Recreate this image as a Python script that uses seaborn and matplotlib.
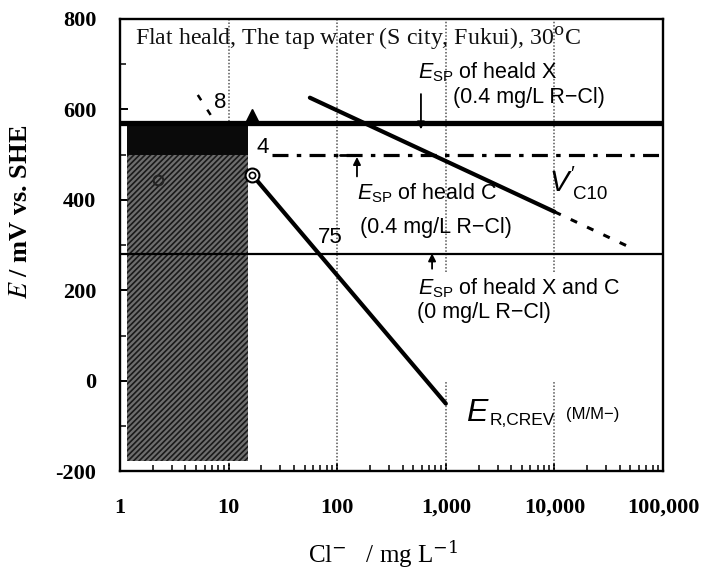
import numpy as np
import pandas as pd
import matplotlib
matplotlib.use("Agg")
import matplotlib.pyplot as plt
import seaborn as sns
from matplotlib.ticker import FixedLocator, NullFormatter, LogLocator

# ---- data ----
esp_x_level = 570          # E_SP of heald X (0.4 mg/L R-Cl)
esp_c_level = 500          # E_SP of heald C (0.4 mg/L R-Cl)
esp_c_start = 25
esp_0_level = 280          # E_SP of heald X and C (0 mg/L R-Cl)
vc10_x = [56, 10000]
vc10_y = [626, 374]
vc10_ext_x = [10000, 51000]
vc10_ext_y = [374, 294]
ercrev_x = [16.4, 1000]
ercrev_y = [456, -50]
short_dash_x = [5.2, 7.0]
short_dash_y = [632, 584]
hatch_x = [1.16, 15.1]
hatch_y = [-176, 500]
black_y = [500, 566]
tri_pt = (16.4, 586)
open_circ = (2.24, 445)
dbl_circ = (16.4, 456)
grid_full_x = [10, 100]
grid_split_x = [1000, 10000]
xticks = [1, 10, 100, 1000, 10000, 100000]
xticklabels = ["1", "10", "100", "1,000", "10,000", "100,000"]
yticks = [-200, 0, 200, 400, 600, 800]

sns.set_theme(style="ticks")
plt.rcParams["font.family"] = ["Liberation Sans", "DejaVu Sans"]
plt.rcParams["mathtext.fontset"] = "custom"
plt.rcParams["mathtext.rm"] = "Liberation Sans"
plt.rcParams["mathtext.it"] = "Liberation Sans:italic"
plt.rcParams["mathtext.bf"] = "Liberation Sans:bold"
plt.rcParams["hatch.linewidth"] = 1.2
plt.rcParams["axes.unicode_minus"] = False
for k in ["text.color", "axes.labelcolor", "xtick.color", "ytick.color", "axes.edgecolor"]:
    plt.rcParams[k] = "black"

fig = plt.figure(figsize=(7.04, 5.71), dpi=100)
ax = fig.add_axes([0.1705, 0.1743, 0.7713, 0.7925])
ax.set_xscale("log")
ax.set_xlim(1, 100000)
ax.set_ylim(-200, 800)

# vertical dotted grid lines
gkw = dict(color="#555555", lw=1.1, ls=(0, (1, 1.2)), zorder=1)
for gx in grid_full_x:
    ax.plot([gx, gx], [-200, 800], **gkw)
for gx in grid_split_x:
    ax.plot([gx, gx], [-200, 0], **gkw)
    ax.plot([gx, gx], [241, 800], **gkw)

# hatched region + black band
ax.fill_between(hatch_x, hatch_y[0], hatch_y[1], facecolor="#6e6e6e",
                hatch="//////", edgecolor="#1a1a1a", linewidth=0, zorder=2)
ax.fill_between(hatch_x, black_y[0], black_y[1], facecolor="#0a0a0a",
                edgecolor="none", linewidth=0, zorder=2)

# horizontal levels
df_x = pd.DataFrame({"x": [1, 100000], "y": [esp_x_level, esp_x_level]})
sns.lineplot(data=df_x, x="x", y="y", ax=ax, color="black", lw=3.8, zorder=4)
df_c = pd.DataFrame({"x": [esp_c_start, 100000], "y": [esp_c_level, esp_c_level]})
sns.lineplot(data=df_c, x="x", y="y", ax=ax, color="black", lw=2.3,
             ls=(0, (5, 2.6, 1.4, 2.6)), zorder=4)
df_0 = pd.DataFrame({"x": [1, 100000], "y": [esp_0_level, esp_0_level]})
sns.lineplot(data=df_0, x="x", y="y", ax=ax, color="black", lw=1.6, zorder=4)

# sloped lines
sns.lineplot(x=vc10_x, y=vc10_y, ax=ax, color="black", lw=3.0, zorder=4)
sns.lineplot(x=vc10_ext_x, y=vc10_ext_y, ax=ax, color="black", lw=2.2,
             ls=(0, (2.3, 3.6)), zorder=4)
sns.lineplot(x=ercrev_x, y=ercrev_y, ax=ax, color="black", lw=3.0, zorder=4)
sns.lineplot(x=short_dash_x, y=short_dash_y, ax=ax, color="black", lw=1.8,
             ls=(0, (2.5, 4.5)), zorder=4)

# markers
ax.plot(*tri_pt, marker="^", ms=10, color="black", zorder=6, ls="none")
ax.plot(*open_circ, marker="o", ms=7, mfc="none", mec="#222222", mew=1.5, zorder=6, ls="none")
ax.plot(*dbl_circ, marker="o", ms=10, mfc="white", mec="black", mew=1.5, zorder=6, ls="none")
ax.plot(*dbl_circ, marker="o", ms=4.5, mfc="white", mec="black", mew=1.2, zorder=7, ls="none")

# arrows
ap = dict(arrowstyle="-|>", color="black", lw=1.3, mutation_scale=11, shrinkA=0, shrinkB=0)
ax.annotate("", xy=(590, 556), xytext=(590, 634), arrowprops=ap, zorder=5)
ax.annotate("", xy=(152, 495), xytext=(152, 452), arrowprops=ap, zorder=5)
ax.plot([106, 152], [500, 500], color="black", lw=2.0, zorder=5)
ax.annotate("", xy=(747, 282), xytext=(747, 248), arrowprops=ap, zorder=5)

# texts
serif = ["Liberation Serif", "DejaVu Serif"]
fs = 15.5
ax.text(0.028, 0.958, "Flat heald, The tap water (S city, Fukui), 30$^{\\rm o}$C",
        transform=ax.transAxes, family=serif, fontsize=17.2, va="center", ha="left",
        color="#111111", zorder=8, math_fontfamily="dejavuserif")
ax.text(555, 683, r"$E_{\rm SP}$ of heald X", fontsize=fs, va="center", ha="left", zorder=8)
ax.text(1165, 626, "(0.4 mg/L R\u2212Cl)", fontsize=fs, va="center", ha="left", zorder=8)
ax.text(152, 416, r"$E_{\rm SP}$ of heald C", fontsize=fs, va="center", ha="left", zorder=8)
ax.text(162, 339, "(0.4 mg/L R\u2212Cl)", fontsize=fs, va="center", ha="left", zorder=8)
ax.text(9000, 436, r"$V'$", fontsize=21, va="center", ha="left", zorder=8)
ax.text(14800, 411, "C10", fontsize=13.5, va="center", ha="left", zorder=8)
ax.text(555, 206, r"$E_{\rm SP}$ of heald X and C", fontsize=fs, va="center", ha="left", zorder=8)
ax.text(545, 151, "(0 mg/L R\u2212Cl)", fontsize=fs, va="center", ha="left", zorder=8)
ax.text(1550, -70, r"$E$", fontsize=23, va="center", ha="left", zorder=8)
ax.text(2550, -88, "R,CREV", fontsize=12.5, va="center", ha="left", zorder=8)
ax.text(12800, -74, "(M/M\u2212)", fontsize=12, va="center", ha="left", zorder=8)
ax.text(8.35, 615, "8", fontsize=16, va="center", ha="center", zorder=8)
ax.text(20.7, 517, "4", fontsize=16, va="center", ha="center", zorder=8)
ax.text(86, 317, "75", fontsize=16, va="center", ha="center", zorder=8)

# axes styling
for s in ax.spines.values():
    s.set_linewidth(1.7)
    s.set_color("black")
ax.xaxis.set_major_locator(FixedLocator(xticks))
ax.set_xticklabels(xticklabels)
ax.xaxis.set_minor_locator(LogLocator(base=10, subs=np.arange(2, 10)))
ax.xaxis.set_minor_formatter(NullFormatter())
ax.set_yticks(yticks)
ax.yaxis.set_minor_locator(FixedLocator(np.arange(-200, 801, 100)))
ax.tick_params(axis="both", which="both", direction="in", top=False, right=False,
               color="black", labelcolor="black")
ax.tick_params(axis="both", which="major", length=6, width=1.4)
ax.tick_params(axis="both", which="minor", length=4, width=1.1)
ax.tick_params(axis="y", which="major", pad=17)
ax.tick_params(axis="x", which="major", pad=19)
for lab in ax.get_xticklabels() + ax.get_yticklabels():
    lab.set_family(serif)
    lab.set_fontsize(16)
    lab.set_fontweight("bold")

ax.set_xlabel(r"Cl$^{-}$   / mg L$^{-1}$", family=serif, fontsize=18,
              math_fontfamily="dejavuserif", color="black")
ax.xaxis.set_label_coords(0.485, -0.148)
ax.set_ylabel(r"$\mathit{E}$ / mV vs. SHE", family=serif, fontsize=19, fontweight="bold",
              math_fontfamily="stix", color="black")
ax.yaxis.set_label_coords(-0.162, 0.574)

fig.savefig("out.png", dpi=100)
